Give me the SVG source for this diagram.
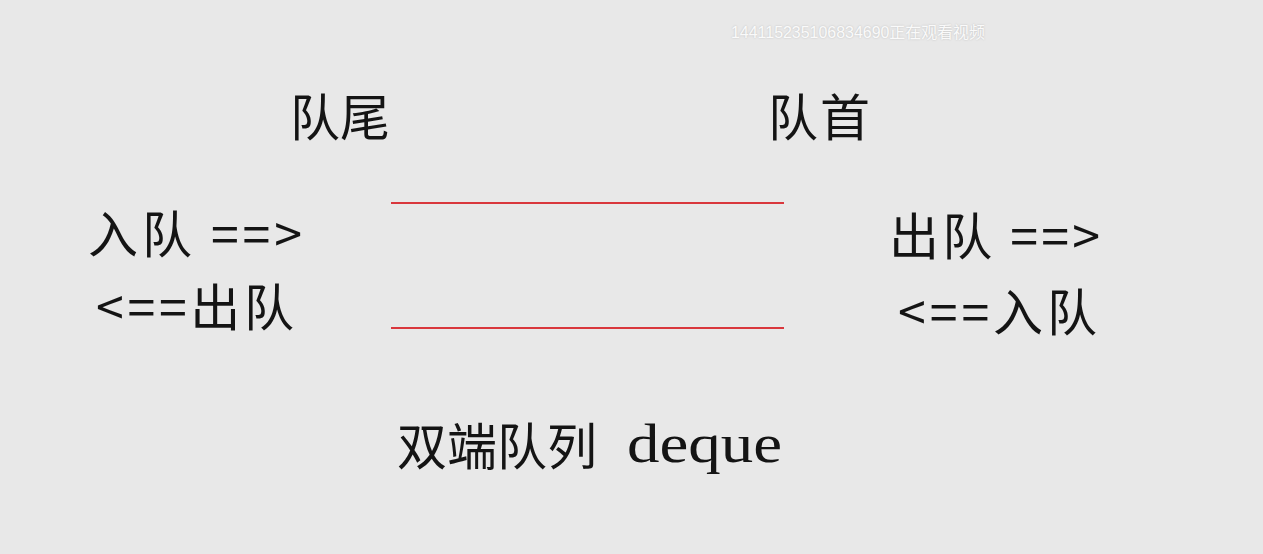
<svg xmlns="http://www.w3.org/2000/svg" width="1263" height="554" viewBox="0 0 1263 554">
<style>
.t{font-family:"Noto Sans CJK SC","Liberation Serif",serif;font-size:50px;fill:#141414;}
.wm{font-family:"Liberation Sans","Noto Sans CJK SC",sans-serif;font-size:16px;fill:#fafafa;}
.q{stroke:#d9373c;stroke-width:2.2;fill:none;}
</style>
<rect width="1263" height="554" fill="#e8e8e8"/>
<text class="wm" x="731" y="38" textLength="254" lengthAdjust="spacingAndGlyphs" style="text-shadow:0 0 2px #bbb">1441152351068346​90正在观看视频</text>
<g id="tail-label"><text class="t" x="290" y="136" textLength="100">队尾</text></g>
<g id="head-label"><text class="t" x="768" y="136" textLength="102">队首</text></g>
<g id="left-enqueue"><text class="t" x="88" y="253" textLength="214" xml:space="preserve">入队 ==&gt;</text></g>
<g id="left-dequeue"><text class="t" x="96" y="326" textLength="198">&lt;==出队</text></g>
<g id="right-dequeue"><text class="t" x="889" y="255" textLength="211" xml:space="preserve">出队 ==&gt;</text></g>
<g id="right-enqueue"><text class="t" x="898" y="331" textLength="199">&lt;==入队</text></g>
<g id="queue-body">
<line class="q" x1="391" y1="203" x2="784" y2="203"/>
<line class="q" x1="391" y1="328" x2="784" y2="328"/>
</g>
<g id="title"><text class="t" x="397" y="465" font-size="52">双端队列 <tspan x="627" y="462" font-family="Liberation Serif, serif" font-size="54" textLength="155" lengthAdjust="spacingAndGlyphs">deque</tspan></text></g>
</svg>
